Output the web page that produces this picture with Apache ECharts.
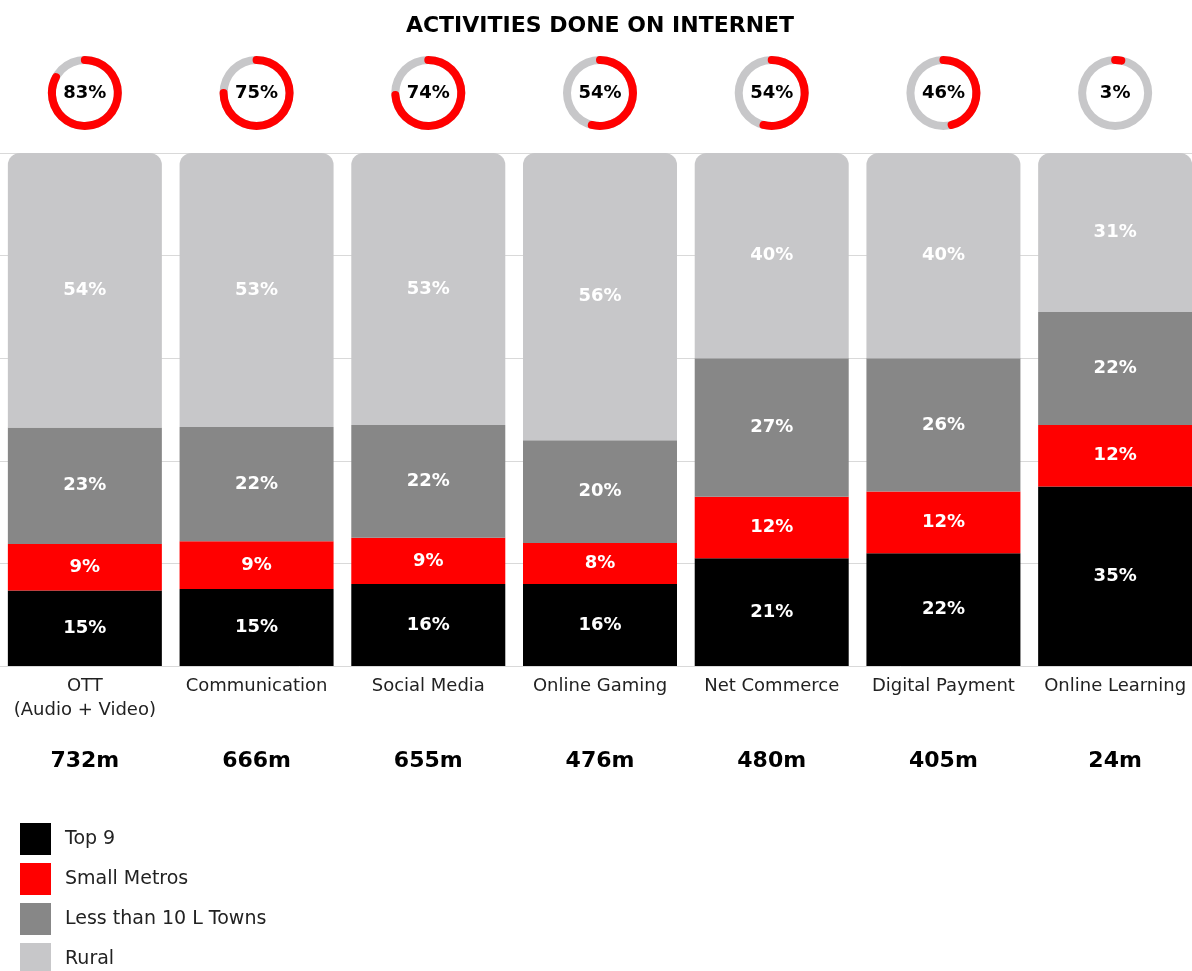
<!DOCTYPE html>
<html>
<head>
<meta charset="utf-8">
<script src="https://cdn.jsdelivr.net/npm/echarts@6/dist/echarts.min.js"></script>
<style>
html,body{margin:0;padding:0;background:#fff;overflow:hidden;width:1192px;height:971px;}
#chart{position:absolute;left:-1px;top:0;width:1202px;height:1010px;}
</style>
</head>
<body>
<div id="chart"></div>
<script>
const categories = ['OTT\n(Audio + Video)', 'Communication', 'Social Media', 'Online Gaming', 'Net Commerce', 'Digital Payment', 'Online Learning'];
const totals = ['732m', '666m', '655m', '476m', '480m', '405m', '24m'];
const penetration = [83, 75, 74, 54, 54, 46, 3];
const top9 = [14.7, 15, 16, 16, 21, 22, 35];
const smallMetros = [9.1, 9.3, 9, 8, 12, 12, 12];
const lessThan10L = [22.7, 22.3, 22, 20, 27, 26, 22];
const rural = [53.5, 53.4, 53, 56, 40, 40, 31];

const FONT = 'DejaVu Sans';
const CW = 1202;
const GRID_TOP = 153, GRID_BOTTOM_Y = 666;
const band = CW / categories.length;

const colors = {top9:'#000000', small:'#ff0000', less:'#878787', rural:'#c7c7c9'};

function barSeries(name, data, color, radius) {
  return {
    name, type:'bar', stack:'s', data, barWidth:154,
    itemStyle:{color, borderRadius: radius ? [12,12,0,0] : 0},
    label:{show:true, position:'inside', color:'#fff', fontFamily:FONT, fontWeight:'bold', fontSize:18,
      formatter: p => Math.round(p.value) + '%'},
    emphasis:{disabled:true}
  };
}

const gauges = penetration.map((v, i) => ({
  type:'gauge',
  center:[band*(i+0.5), 93],
  radius:37,
  startAngle:90, endAngle:-270,
  min:0, max:100,
  pointer:{show:false},
  progress:{show:true, roundCap:true, width:8, itemStyle:{color:'#ff0000'}},
  axisLine:{lineStyle:{width:8, color:[[1,'#c7c7c9']]}},
  axisTick:{show:false}, splitLine:{show:false}, axisLabel:{show:false},
  title:{show:false},
  detail:{show:true, offsetCenter:[0,0], formatter:'{value}%', fontFamily:FONT, fontWeight:'bold', fontSize:18, color:'#000'},
  data:[{value:v}],
  silent:true
}));

const chart = echarts.init(document.getElementById('chart'), null, {renderer:'canvas'});
chart.setOption({
  animation:false,
  backgroundColor:'#fff',
  title:{text:'ACTIVITIES DONE ON INTERNET', left:'center', top:10,
    textStyle:{fontFamily:FONT, fontWeight:'bold', fontSize:22, color:'#000'}},
  legend:{
    orient:'vertical', left:21, top:823, padding:0, itemWidth:31, itemHeight:32, itemGap:8, icon:'rect',
    data:['Top 9','Small Metros','Less than 10 L Towns','Rural'],
    textStyle:{fontFamily:FONT, fontSize:19, color:'#222', padding:[0,0,0,9]},
    selectedMode:false
  },
  grid:{left:0, right:0, top:GRID_TOP, height:GRID_BOTTOM_Y-GRID_TOP, containLabel:false},
  xAxis:[
    {type:'category', data:categories, axisLine:{show:false}, axisTick:{show:false},
     axisLabel:{margin:8, fontFamily:FONT, fontSize:18, color:'#222', lineHeight:24, verticalAlign:'top', interval:0}},
    {type:'category', data:totals, position:'bottom', offset:84, axisLine:{show:false}, axisTick:{show:false},
     axisLabel:{margin:0, fontFamily:FONT, fontSize:22, fontWeight:'bold', color:'#000', interval:0}}
  ],
  yAxis:{type:'value', min:0, max:100, interval:20, axisLabel:{show:false}, axisLine:{show:false}, axisTick:{show:false},
    splitLine:{lineStyle:{color:'#d9d9d9', width:1}}},
  series:[
    barSeries('Top 9', top9, colors.top9, false),
    barSeries('Small Metros', smallMetros, colors.small, false),
    barSeries('Less than 10 L Towns', lessThan10L, colors.less, false),
    barSeries('Rural', rural, colors.rural, true),
    ...gauges
  ]
});
</script>
</body>
</html>
